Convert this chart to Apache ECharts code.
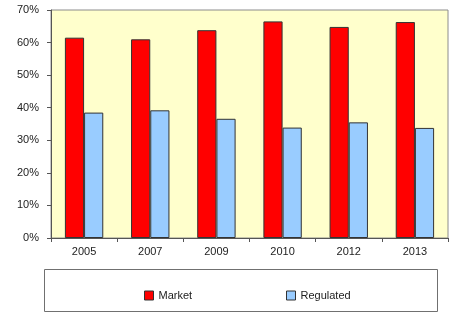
<!DOCTYPE html>
<html>
<head>
<meta charset="utf-8">
<script src="https://cdn.jsdelivr.net/npm/echarts@6/dist/echarts.min.js"></script>
<style>html,body{margin:0;padding:0;background:#fff;}#c{width:459px;height:321px;}</style>
</head>
<body>
<div id="c"></div>
<script>
var categories = ['2005', '2007', '2009', '2010', '2012', '2013'];
var marketValues = [61.5, 61.0, 63.8, 66.5, 64.8, 66.3];
var regulatedValues = [38.5, 39.2, 36.6, 33.9, 35.5, 33.8];
var seriesNames = ['Market', 'Regulated'];

var chart = echarts.init(document.getElementById('c'), null, {renderer: 'canvas'});
var font = 'Liberation Sans, Arial, sans-serif';
chart.setOption({
  animation: false,
  backgroundColor: '#ffffff',
  grid: {left: 51, right: 11, top: 10, bottom: 83, show: true, backgroundColor: '#FFFFCC', borderColor: '#8c8c8c', borderWidth: 1},
  graphic: [{
    type: 'rect', left: 44, top: 269, shape: {width: 393, height: 42},
    style: {fill: '#ffffff', stroke: '#707070', lineWidth: 1}
  }],
  legend: [
    {data: [seriesNames[0]], left: 139, top: 285, icon: 'rect', itemWidth: 9, itemHeight: 9, itemGap: 4,
     textStyle: {fontFamily: font, fontSize: 11, color: '#222'}, itemStyle: {borderColor: '#333', borderWidth: 1}},
    {data: [seriesNames[1]], left: 281, top: 285, icon: 'rect', itemWidth: 9, itemHeight: 9, itemGap: 4,
     textStyle: {fontFamily: font, fontSize: 11, color: '#222'}, itemStyle: {borderColor: '#333', borderWidth: 1}}
  ],
  xAxis: {
    type: 'category', data: categories,
    axisLine: {lineStyle: {color: '#555', width: 1}},
    axisTick: {show: true, alignWithLabel: false, length: 4, lineStyle: {color: '#555'}},
    axisLabel: {fontFamily: font, fontSize: 11, color: '#222', margin: 8}
  },
  yAxis: {
    type: 'value', min: 0, max: 70, interval: 10,
    axisLine: {show: true, lineStyle: {color: '#555', width: 1}},
    axisTick: {show: true, length: 4, lineStyle: {color: '#555'}},
    splitLine: {show: false},
    axisLabel: {fontFamily: font, fontSize: 11, color: '#222', margin: 12, formatter: '{value}%'}
  },
  series: [
    {name: seriesNames[0], type: 'bar', data: marketValues, barWidth: '29%', barGap: '0%',
     itemStyle: {color: '#FF0000', borderColor: '#333', borderWidth: 1}},
    {name: seriesNames[1], type: 'bar', data: regulatedValues, barWidth: '29%', barGap: '0%',
     itemStyle: {color: '#99CCFF', borderColor: '#333', borderWidth: 1}}
  ]
});
</script>
</body>
</html>
